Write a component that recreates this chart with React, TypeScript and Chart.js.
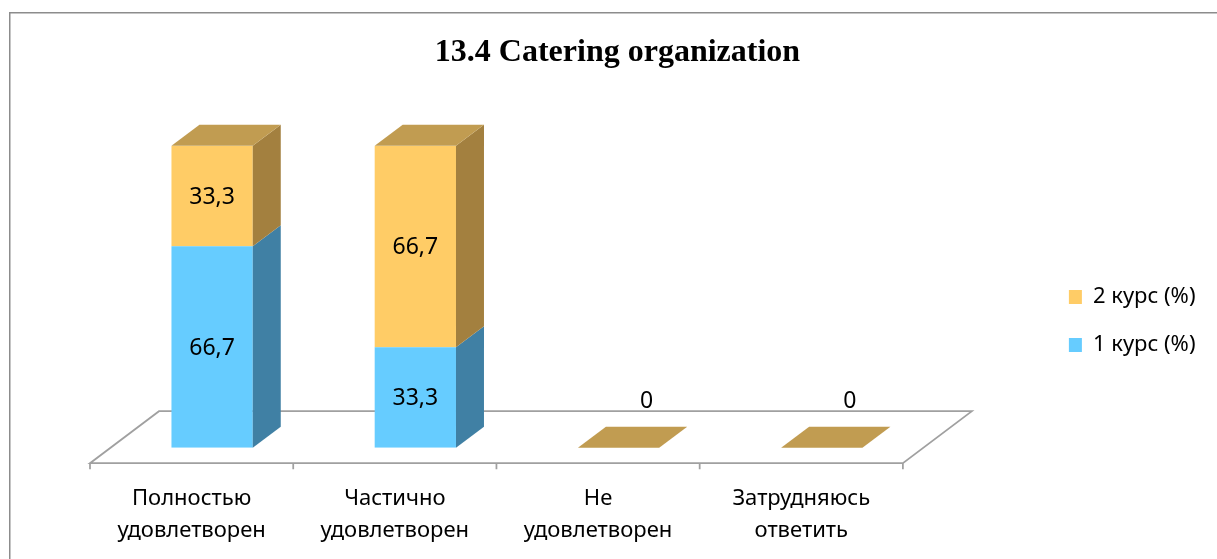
import React, { useEffect, useRef } from 'react';
import { Chart, registerables } from 'chart.js';

Chart.register(...registerables);

// ---- data ----
const categories: string[][] = [
  ['Полностью', 'удовлетворен'],
  ['Частично', 'удовлетворен'],
  ['Не', 'удовлетворен'],
  ['Затрудняюсь', 'ответить'],
];
const course1: number[] = [66.7, 33.3, 0, 0];
const course2: number[] = [33.3, 66.7, 0, 0];
const seriesNames: string[] = ['1 курс (%)', '2 курс (%)'];
const titleText = '13.4 Catering organization';

// ---- styles ----
const FRONT = ['#66CCFF', '#FFCC66'];
const SIDE = ['#4080A4', '#A3803F'];
const TOP = ['#5AA8D0', '#C19C51'];
const DX = 28;
const DY = 21;
const FDX = 69;
const FDY = 52;
const FLOOR_LINE = '#a0a0a0';

const fmt = (v: number) => (Number.isInteger(v) ? String(v) : v.toFixed(1).replace('.', ','));

const bars3d = {
  id: 'bars3d',
  beforeDraw(chart: any) {
    const ctx = chart.ctx;
    ctx.save();
    ctx.strokeStyle = '#8c8c8c';
    ctx.lineWidth = 1.5;
    ctx.strokeRect(9.75, 12.75, 1400, 800);
    ctx.restore();
  },
  beforeDatasetsDraw(chart: any) {
    const ctx = chart.ctx;
    const { left, right, bottom } = chart.chartArea;
    const ox = (FDX - DX) / 2;
    const oy = (FDY - DY) / 2;
    const x0 = left - ox;
    const x1 = right - ox;
    const y0 = bottom + oy;
    ctx.save();
    ctx.beginPath();
    ctx.moveTo(x0, y0);
    ctx.lineTo(x1, y0);
    ctx.lineTo(x1 + FDX, y0 - FDY);
    ctx.lineTo(x0 + FDX, y0 - FDY);
    ctx.closePath();
    ctx.fillStyle = '#ffffff';
    ctx.fill();
    ctx.strokeStyle = FLOOR_LINE;
    ctx.lineWidth = 1.75;
    ctx.lineJoin = 'miter';
    ctx.stroke();
    const xs = chart.scales.x;
    ctx.beginPath();
    for (let i = 0; i <= categories.length; i++) {
      const px = xs.getPixelForValue(i - 0.5) - ox;
      ctx.moveTo(px, y0);
      ctx.lineTo(px, y0 + 6);
    }
    ctx.stroke();
    ctx.restore();
  },
  afterDatasetsDraw(chart: any) {
    const ctx = chart.ctx;
    const n = chart.data.datasets.length;
    ctx.save();
    // side faces
    for (let di = 0; di < n; di++) {
      const meta = chart.getDatasetMeta(di);
      meta.data.forEach((bar: any) => {
        const { x, y, base, width } = bar.getProps(['x', 'y', 'base', 'width'], true);
        const r = x + width / 2;
        const top = Math.min(y, base);
        const bot = Math.max(y, base);
        if (bot - top < 0.5) return;
        ctx.beginPath();
        ctx.moveTo(r, top);
        ctx.lineTo(r + DX, top - DY);
        ctx.lineTo(r + DX, bot - DY);
        ctx.lineTo(r, bot);
        ctx.closePath();
        ctx.fillStyle = SIDE[di];
        ctx.fill();
      });
    }
    // top faces (top of stack)
    const lastMeta = chart.getDatasetMeta(n - 1);
    lastMeta.data.forEach((bar: any) => {
      const { x, y, width } = bar.getProps(['x', 'y', 'width'], true);
      const l = x - width / 2;
      const r = x + width / 2;
      ctx.beginPath();
      ctx.moveTo(l, y);
      ctx.lineTo(l + DX, y - DY);
      ctx.lineTo(r + DX, y - DY);
      ctx.lineTo(r, y);
      ctx.closePath();
      ctx.fillStyle = TOP[n - 1];
      ctx.fill();
    });
    // labels
    ctx.fillStyle = '#000';
    ctx.font = '23px "Noto Sans"';
    ctx.textAlign = 'center';
    ctx.textBaseline = 'middle';
    for (let di = 0; di < n; di++) {
      const meta = chart.getDatasetMeta(di);
      const vals = chart.data.datasets[di].data as number[];
      meta.data.forEach((bar: any, i: number) => {
        const { x, y, base } = bar.getProps(['x', 'y', 'base'], true);
        const v = vals[i];
        if (v === 0) {
          if (di !== n - 1) return;
          ctx.fillText(fmt(v), x + DX, y - DY - 25);
        } else {
          ctx.fillText(fmt(v), x, (y + base) / 2 + 1);
        }
      });
    }
    ctx.restore();
  },
};

export default function App() {
  const ref = useRef<HTMLCanvasElement | null>(null);
  useEffect(() => {
    if (!ref.current) return;
    const chart = new Chart(ref.current, {
      type: 'bar',
      data: {
        labels: categories,
        datasets: [
          {
            label: seriesNames[0],
            data: course1,
            backgroundColor: FRONT[0],
            borderWidth: 0,
            barPercentage: 0.4,
            categoryPercentage: 1,
          },
          {
            label: seriesNames[1],
            data: course2,
            backgroundColor: FRONT[1],
            borderWidth: 0,
            barPercentage: 0.4,
            categoryPercentage: 1,
          },
        ],
      },
      options: {
        responsive: false,
        animation: false,
        devicePixelRatio: 1,
        layout: { padding: { left: 29.5, right: 11.5, top: 0, bottom: 0 } },
        plugins: {
          title: {
            display: true,
            text: titleText,
            color: '#000',
            font: { family: '"Liberation Serif", "Times New Roman", serif', size: 32, weight: 'bold' },
            padding: { top: 34, bottom: 73.3 },
          },
          legend: {
            position: 'right',
            reverse: true,
            title: {
              display: true,
              text: ' ',
              font: { size: 10, lineHeight: '12px' },
              padding: { top: 71, bottom: 0 },
            },
            labels: {
              boxWidth: 13,
              boxHeight: 14,
              padding: 26,
              color: '#000',
              font: { family: '"Noto Sans"', size: 22 },
            },
          },
          tooltip: { enabled: false },
        },
        scales: {
          x: {
            stacked: true,
            grid: { display: false, drawTicks: false },
            border: { display: false },
            ticks: {
              color: '#000',
              font: { family: '"Noto Sans"', size: 22, lineHeight: '32px' },
              padding: 35,
              labelOffset: -20.5,
              maxRotation: 0,
              autoSkip: false,
            },
            afterFit: (s: any) => {
              s.height = 111.3;
            },
          },
          y: {
            stacked: true,
            min: 0,
            max: 100,
            grid: { display: false },
            border: { display: false },
            ticks: { display: false },
            afterFit: (s: any) => {
              s.width = 81;
            },
          },
          y2: {
            type: 'linear',
            position: 'right',
            grid: { display: false },
            border: { display: false },
            ticks: { display: false },
            afterFit: (s: any) => {
              s.width = 119.5;
            },
          },
        },
      } as any,
      plugins: [bars3d],
    });
    return () => chart.destroy();
  }, []);
  return (
    <div style={{ position: 'absolute', left: 0, top: 0, width: 1217, height: 559, background: '#fff' }}>
      <canvas ref={ref} width={1217} height={559} />
    </div>
  );
}
